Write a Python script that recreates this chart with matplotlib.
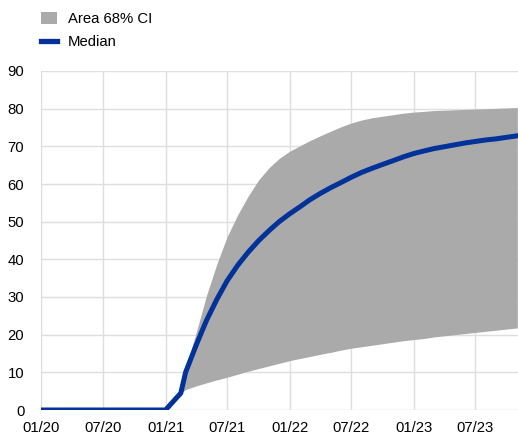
import numpy as np
import pandas as pd
import matplotlib
matplotlib.use("Agg")
import matplotlib.pyplot as plt
import matplotlib.dates as mdates
from matplotlib.patches import Patch
from matplotlib.lines import Line2D

plt.rcParams['font.family'] = ['Liberation Sans', 'DejaVu Sans']

# months before the rise (all zero)
zero_dates = pd.date_range("2020-01-01", "2021-01-01", freq="MS")
zero_values = [0.0] * len(zero_dates)

# from the kink onwards
rise_dates = [pd.Timestamp("2021-02-15")] + list(pd.date_range("2021-03-01", "2023-11-01", freq="MS"))

median = [4.5, 10.0, 17.2, 23.7, 29.4, 34.3, 38.4, 41.9, 44.9, 47.6, 50.0, 52.1,
          54.0, 55.8, 57.5, 59.0, 60.4, 61.8, 63.1, 64.2, 65.2, 66.2, 67.2, 68.1,
          68.8, 69.4, 69.9, 70.4, 70.9, 71.3, 71.7, 72.0, 72.4, 72.8]
upper = [4.5, 11.0, 20.5, 30.3, 38.8, 46.0, 51.8, 56.8, 61.0, 64.3, 66.8, 68.7,
         70.2, 71.5, 72.8, 74.0, 75.2, 76.2, 77.0, 77.6, 78.0, 78.4, 78.8, 79.1,
         79.3, 79.5, 79.6, 79.7, 79.8, 79.9, 80.0, 80.1, 80.2, 80.3]
lower = [4.5, 5.4, 6.4, 7.2, 8.0, 8.7, 9.5, 10.3, 11.0, 11.7, 12.4, 13.1,
         13.7, 14.2, 14.8, 15.3, 15.9, 16.4, 16.8, 17.2, 17.6, 18.0, 18.4, 18.7,
         19.0, 19.4, 19.7, 20.0, 20.3, 20.6, 20.9, 21.2, 21.5, 21.8]

tick_dates = pd.date_range("2020-01-01", "2023-07-01", freq="6MS")
y_ticks = list(range(0, 91, 10))

blue = "#003299"
grey = "#aaaaaa"
grid_c = "#dedede"

fig = plt.figure(figsize=(5.18, 4.37), dpi=100)
ax = fig.add_axes([41 / 518, 27 / 437, 1 - 41 / 518, 339 / 437])

ax.fill_between(rise_dates, lower, upper, color=grey, linewidth=0, zorder=2)
all_dates = list(zero_dates) + rise_dates
all_median = zero_values + median
ax.plot(all_dates, all_median, color=blue, linewidth=3.6, solid_joinstyle='round', zorder=3)

ax.set_xlim(pd.Timestamp("2020-01-01"), pd.Timestamp("2023-11-03"))
ax.set_ylim(0, 90)
ax.set_xticks(tick_dates)
ax.xaxis.set_major_formatter(mdates.DateFormatter("%m/%y"))
ax.set_yticks(y_ticks)
ax.grid(True, color=grid_c, linewidth=1.0, zorder=0)
ax.set_axisbelow(True)
for s in ax.spines.values():
    s.set_visible(False)
ax.tick_params(axis='both', length=0, labelsize=10.7, colors='black')
ax.tick_params(axis='y', pad=12)
ax.tick_params(axis='x', pad=8)

handles = [Patch(facecolor=grey, edgecolor='none'),
           Line2D([0], [0], color=blue, linewidth=3.8)]
fig.legend(handles, ["Area 68% CI", "Median"], loc='upper left',
           bbox_to_anchor=(41 / 518, 1 - 12 / 437), frameon=False, fontsize=10.7,
           handlelength=1.05, handleheight=0.85, handletextpad=0.75, labelspacing=0.62,
           borderaxespad=0, borderpad=0)

fig.savefig("out.png", dpi=100)
